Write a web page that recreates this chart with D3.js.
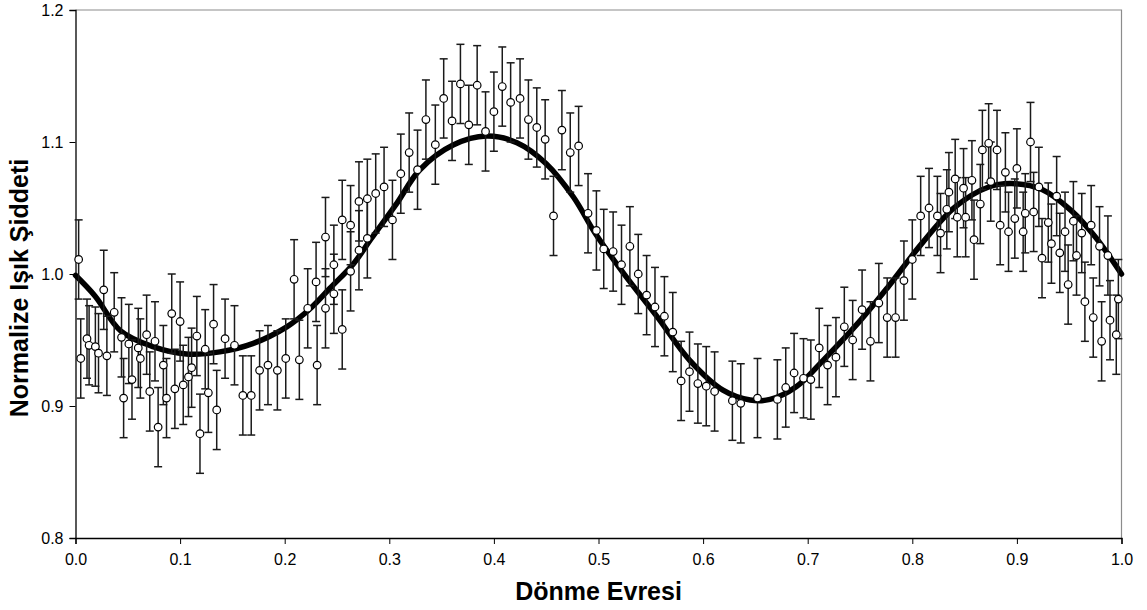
<!DOCTYPE html>
<html>
<head>
<meta charset="utf-8">
<script src="https://cdn.jsdelivr.net/npm/d3@7"></script>
<style>
  body { margin: 0; background: #fff; }
  svg { display: block; font-family: "Liberation Sans", Arial, sans-serif; }
</style>
</head>
<body>
<div id="chart"></div>
<script>
// observed light curve (phase, normalised intensity)
const phases = [
  0.003, 0.005, 0.011, 0.013, 0.019, 0.022, 0.027, 0.030, 0.037, 0.044,
  0.046, 0.051, 0.054, 0.060, 0.062, 0.068, 0.071, 0.076, 0.079, 0.084,
  0.087, 0.092, 0.095, 0.100, 0.103, 0.108, 0.111, 0.116, 0.119, 0.124,
  0.127, 0.132, 0.135, 0.143, 0.152, 0.160, 0.168, 0.176, 0.184, 0.193,
  0.201, 0.209, 0.214, 0.222, 0.230, 0.231, 0.239, 0.239, 0.247, 0.247,
  0.255, 0.255, 0.263, 0.263, 0.271, 0.271, 0.279, 0.279, 0.287, 0.295,
  0.303, 0.311, 0.319, 0.327, 0.335, 0.344, 0.352, 0.360, 0.368, 0.376,
  0.384, 0.392, 0.400, 0.408, 0.416, 0.425, 0.433, 0.441, 0.449, 0.457,
  0.465, 0.473, 0.481, 0.490, 0.498, 0.505, 0.514, 0.522, 0.530, 0.538,
  0.546, 0.554, 0.563, 0.571, 0.579, 0.587, 0.595, 0.603, 0.611, 0.628,
  0.636, 0.652, 0.671, 0.679, 0.687, 0.696, 0.703, 0.711, 0.719, 0.727,
  0.735, 0.743, 0.752, 0.760, 0.768, 0.776, 0.784, 0.792, 0.800, 0.808,
  0.816, 0.824, 0.827, 0.833, 0.835, 0.841, 0.843, 0.849, 0.851, 0.857,
  0.859, 0.865, 0.867, 0.873, 0.875, 0.881, 0.884, 0.889, 0.892, 0.898,
  0.900, 0.906, 0.908, 0.913, 0.916, 0.921, 0.924, 0.930, 0.933, 0.938,
  0.941, 0.946, 0.949, 0.954, 0.957, 0.962, 0.965, 0.971, 0.973, 0.979,
  0.981, 0.987, 0.989, 0.995, 0.997
];
const intensities = [
  1.011, 0.936, 0.951, 0.946, 0.945, 0.940, 0.988, 0.938, 0.971, 0.952,
  0.906, 0.947, 0.920, 0.944, 0.936, 0.954, 0.911, 0.949, 0.884, 0.931,
  0.906, 0.970, 0.913, 0.964, 0.916, 0.922, 0.929, 0.953, 0.879, 0.943,
  0.910, 0.962, 0.897, 0.951, 0.946, 0.908, 0.908, 0.927, 0.931, 0.927,
  0.936, 0.996, 0.935, 0.974, 0.994, 0.931, 0.974, 1.028, 1.007, 0.985,
  1.041, 0.958, 1.037, 1.002, 1.055, 1.018, 1.057, 1.027, 1.061, 1.066,
  1.041, 1.076, 1.092, 1.079, 1.117, 1.098, 1.133, 1.116, 1.144, 1.113,
  1.143, 1.108, 1.123, 1.142, 1.130, 1.133, 1.117, 1.111, 1.102, 1.044,
  1.109, 1.092, 1.097, 1.046, 1.033, 1.019, 1.017, 1.007, 1.021, 1.000,
  0.984, 0.975, 0.968, 0.956, 0.919, 0.926, 0.917, 0.915, 0.911, 0.904,
  0.902, 0.906, 0.905, 0.914, 0.925, 0.921, 0.920, 0.944, 0.931, 0.937,
  0.960, 0.950, 0.973, 0.949, 0.978, 0.967, 0.967, 0.995, 1.011, 1.044,
  1.050, 1.044, 1.031, 1.049, 1.062, 1.072, 1.043, 1.065, 1.043, 1.071,
  1.026, 1.053, 1.094, 1.099, 1.070, 1.094, 1.037, 1.077, 1.032, 1.042,
  1.080, 1.032, 1.046, 1.100, 1.047, 1.066, 1.012, 1.039, 1.023, 1.059,
  1.016, 1.032, 0.992, 1.040, 1.014, 1.031, 0.979, 1.037, 0.967, 1.021,
  0.949, 1.014, 0.965, 0.954, 0.981
];
const errorBar = 0.03;

// model curve
const fitPhases = [
  0.000, 0.019, 0.043, 0.074, 0.106, 0.138, 0.170, 0.202, 0.224, 0.243,
  0.266, 0.282, 0.307, 0.329, 0.361, 0.393, 0.422, 0.450, 0.476, 0.497,
  0.524, 0.556, 0.587, 0.619, 0.645, 0.664, 0.689, 0.715, 0.750, 0.777,
  0.809, 0.841, 0.873, 0.895, 0.924, 0.952, 0.975, 1.000
];
const fitValues = [
  0.999, 0.983, 0.957, 0.945, 0.9394, 0.941, 0.9475, 0.960, 0.9735, 0.989,
  1.008, 1.026, 1.0533, 1.0788, 1.0977, 1.1045, 1.0995, 1.0836, 1.0583, 1.0306,
  1.0005, 0.9677, 0.9348, 0.912, 0.9045, 0.905, 0.9146, 0.9348, 0.9645, 0.9904,
  1.023, 1.0508, 1.0659, 1.0685, 1.064, 1.048, 1.028, 1.000
];

const xTicks = [0, 0.1, 0.2, 0.3, 0.4, 0.5, 0.6, 0.7, 0.8, 0.9, 1.0];
const yTicks = [0.8, 0.9, 1.0, 1.1, 1.2];

const width = 1147, height = 610;
const plotLeft = 75.5, plotRight = 1121.5, plotTop = 10, plotBottom = 538;

const x = d3.scaleLinear().domain([0, 1]).range([plotLeft, plotRight]);
const y = d3.scaleLinear().domain([0.8, 1.2]).range([plotBottom, plotTop]);

const svg = d3.select("#chart").append("svg")
    .attr("width", width)
    .attr("height", height);

// plot frame (grey top/right)
svg.append("path")
    .attr("d", `M${plotLeft},${plotTop}H${plotRight}V${plotBottom}`)
    .attr("fill", "none")
    .attr("stroke", "#8c8c8c")
    .attr("stroke-width", 1.2);

const xAxis = d3.axisBottom(x).tickValues(xTicks).tickFormat(d3.format(".1f")).tickSize(6).tickPadding(10);
const yAxis = d3.axisLeft(y).tickValues(yTicks).tickFormat(d3.format(".1f")).tickSize(6).tickPadding(6);

svg.append("g")
    .attr("transform", `translate(0,${plotBottom})`)
    .call(xAxis)
    .call(g => g.select(".domain").attr("stroke", "#000").attr("stroke-width", 1.3))
    .call(g => g.selectAll(".tick line").attr("stroke", "#000"))
    .call(g => g.selectAll(".tick text").attr("font-size", 16).attr("fill", "#000")
        .attr("font-family", "'Liberation Sans', Arial, sans-serif"));

svg.append("g")
    .attr("transform", `translate(${plotLeft},0)`)
    .call(yAxis)
    .call(g => g.select(".domain").attr("stroke", "#000").attr("stroke-width", 1.3))
    .call(g => g.selectAll(".tick line").attr("stroke", "#000"))
    .call(g => g.selectAll(".tick text").attr("font-size", 16).attr("fill", "#000")
        .attr("font-family", "'Liberation Sans', Arial, sans-serif"));

// fitted curve
const line = d3.line()
    .x(i => x(fitPhases[i]))
    .y(i => y(fitValues[i]))
    .curve(d3.curveCatmullRom.alpha(0.5));

svg.append("path")
    .datum(d3.range(fitPhases.length))
    .attr("d", line)
    .attr("fill", "none")
    .attr("stroke", "#000")
    .attr("stroke-width", 5.5)
    .attr("stroke-linecap", "round")
    .attr("stroke-linejoin", "round");

// error bars
const idx = d3.range(phases.length);
const bars = svg.append("g")
    .attr("stroke", "#1a1a1a")
    .attr("stroke-width", 1.5)
    .selectAll("g")
    .data(idx)
    .join("g");

bars.append("line")
    .attr("x1", i => x(phases[i]))
    .attr("x2", i => x(phases[i]))
    .attr("y1", i => y(intensities[i] - errorBar))
    .attr("y2", i => y(intensities[i] + errorBar));

bars.append("line")
    .attr("x1", i => x(phases[i]) - 4)
    .attr("x2", i => x(phases[i]) + 4)
    .attr("y1", i => y(intensities[i] + errorBar))
    .attr("y2", i => y(intensities[i] + errorBar));

bars.append("line")
    .attr("x1", i => x(phases[i]) - 4)
    .attr("x2", i => x(phases[i]) + 4)
    .attr("y1", i => y(intensities[i] - errorBar))
    .attr("y2", i => y(intensities[i] - errorBar));

// data points
svg.append("g")
    .attr("fill", "#fff")
    .attr("stroke", "#000")
    .attr("stroke-width", 1.2)
    .selectAll("circle")
    .data(idx)
    .join("circle")
    .attr("cx", i => x(phases[i]))
    .attr("cy", i => y(intensities[i]))
    .attr("r", 3.8);

// axis titles
svg.append("text")
    .attr("x", (plotLeft + plotRight) / 2)
    .attr("y", 600)
    .attr("text-anchor", "middle")
    .attr("font-weight", "bold")
    .attr("font-size", 25)
    .text("Dönme Evresi");

svg.append("text")
    .attr("transform", "translate(27.5,288) rotate(-90)")
    .attr("text-anchor", "middle")
    .attr("font-weight", "bold")
    .attr("font-size", 25)
    .text("Normalize Işık Şiddeti");
</script>
</body>
</html>
